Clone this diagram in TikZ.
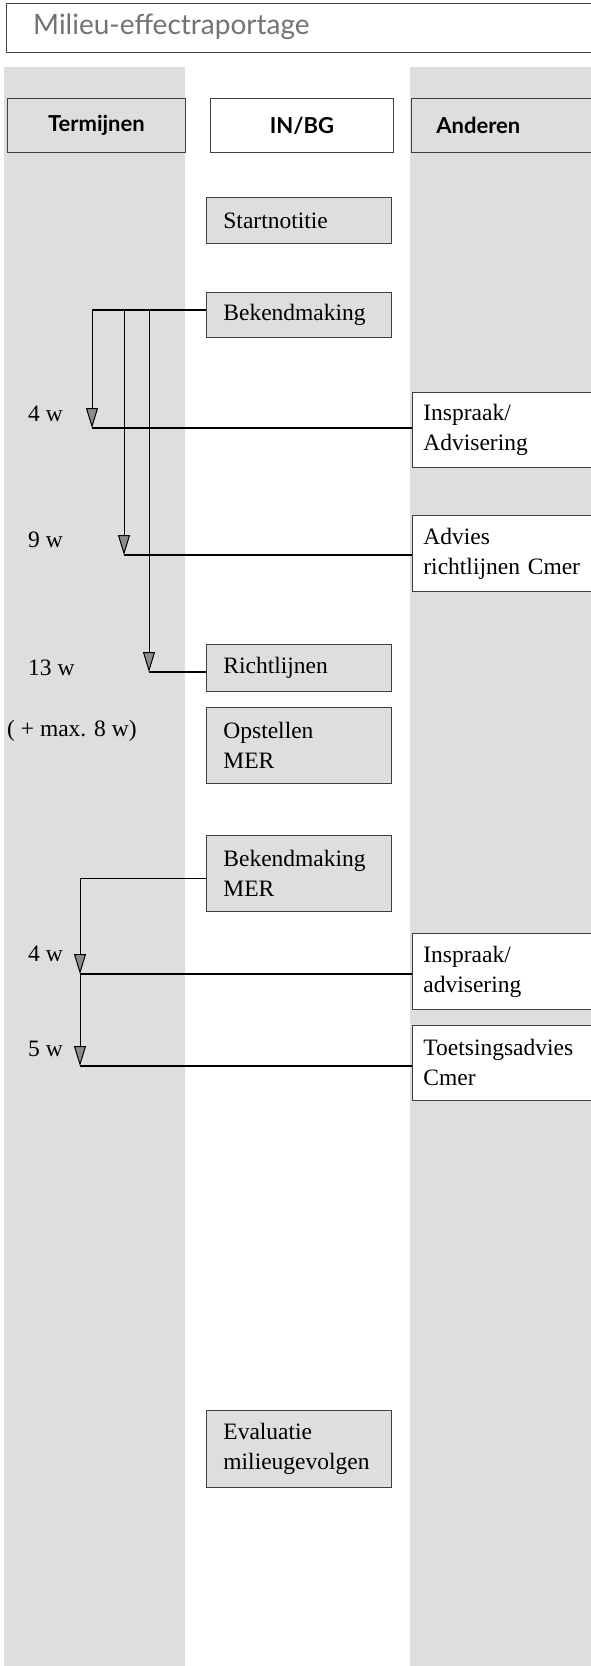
\documentclass[tikz,border=0pt]{standalone}
\usepackage{fontspec}
\setmainfont{Liberation Serif}
\newfontfamily\hdfont{Lato}
\usetikzlibrary{arrows.meta}
\tikzset{
  stip/.style={fill=black!13},
  boxbase/.style={draw=black!75, line width=0.8pt, rectangle, inner xsep=0pt, inner ysep=0pt, anchor=north west, font=\fontsize{23.5}{30}\selectfont},
  midbox/.style={boxbase, fill=black!13, text width=185pt, minimum width=185pt, execute at begin node={\leftskip=17pt\rightskip=0pt plus 1fil\relax}},
  rbox/.style={boxbase, fill=white, text width=190pt, minimum width=190pt, execute at begin node={\leftskip=11pt\rightskip=0pt plus 1fil\relax}},
  hdbox/.style={draw=black!75, line width=0.8pt, rectangle, inner sep=0pt, anchor=north west, minimum height=54pt, font=\hdfont\bfseries\fontsize{22}{26}\selectfont},
  lab/.style={anchor=base west, inner sep=0pt, font=\fontsize{23.5}{30}\selectfont},
  hline/.style={line width=1.6pt, black},
  arr/.style={line width=1pt, black, -{Triangle[width=12pt,length=20pt,fill=black!45]}},
}
\begin{document}
\begin{tikzpicture}[x=1pt,y=-1pt]
\useasboundingbox (0,0) rectangle (591,1666);
\clip (0,0) rectangle (591,1666);
\fill[white] (0,0) rectangle (591,1666);
% shaded columns
\fill[stip] (4,67) rectangle (185,1666);
\fill[stip] (410,67) rectangle (591,1666);
% title
\draw[draw=black!75, line width=0.8pt] (6,3) rectangle (600,52);
\node[anchor=west, inner sep=0pt, text=black!55, font=\hdfont\fontsize{28}{32}\selectfont] (title) at (33,27) {Milieu-effectraportage};
% headers
\node[hdbox, fill=black!13, minimum width=178pt] (h1) at (7,98) {Termijnen};
\node[hdbox, fill=white, minimum width=183pt] (h2) at (210,98) {IN/BG};
\node[hdbox, fill=black!13, minimum width=185pt, text width=185pt, execute at begin node={\leftskip=0pt plus 1fil\rightskip=26pt plus 1fil\relax}] (h3) at (411,98) {Anderen};
% middle column
\node[midbox, minimum height=46pt] (start) at (206,197) {Startnotitie};
\node[midbox, minimum height=45pt] (bek) at (206,292) {Bekendmaking};
\node[midbox, minimum height=47pt] (richt) at (206,644) {Richtlijnen};
\node[midbox, minimum height=76pt] (opst) at (206,707) {Opstellen\\MER};
\node[midbox, minimum height=76pt] (bekmer) at (206,835) {Bekendmaking\\MER};
\node[midbox, minimum height=77pt] (eval) at (206,1410) {Evaluatie\\milieugevolgen};
% right column
\node[rbox, minimum height=75pt] (insp1) at (412,392) {Inspraak/\\Advisering};
\node[rbox, minimum height=76pt] (adv) at (412,515) {Advies\\richtlijnen Cmer};
\node[rbox, minimum height=76pt] (insp2) at (412,933) {Inspraak/\\advisering};
\node[rbox, minimum height=75pt] (toets) at (412,1025) {Toetsingsadvies\\Cmer};
% labels
\node[lab] (l1) at (28,421) {4 w};
\node[lab] (l2) at (28,547) {9 w};
\node[lab] (l3) at (28,675) {13 w};
\node[lab] (l4) at (7,736) {( + max. 8 w)};
\node[lab] (l5) at (28,961) {4 w};
\node[lab] (l6) at (28,1056) {5 w};
% connectors, first group
\coordinate (bk) at ([yshift=5pt]bek.west);
\coordinate (t1) at (92,428);
\coordinate (t2) at (124,555);
\coordinate (t3) at (149,672);
\draw[hline] (bk) -- (bk -| t1);
\draw[hline] (t1) -- (t1 -| insp1.west);
\draw[hline] (t2) -- (t2 -| adv.west);
\draw[hline] (t3) -- (t3 -| richt.west);
\draw[arr] (bk -| t1) -- (t1);
\draw[arr] (bk -| t2) -- (t2);
\draw[arr] (bk -| t3) -- (t3);
% connectors, second group
\coordinate (bm) at ([yshift=-5pt]bekmer.west);
\coordinate (t4) at (80,974);
\coordinate (t5) at (80,1066);
\draw[hline] (bm) -- (bm -| t4);
\draw[hline] (t4) -- (t4 -| insp2.west);
\draw[hline] (t5) -- (t5 -| toets.west);
\draw[arr] (bm -| t4) -- (t4);
\draw[arr] (t4) -- (t5);
\end{tikzpicture}
\end{document}
